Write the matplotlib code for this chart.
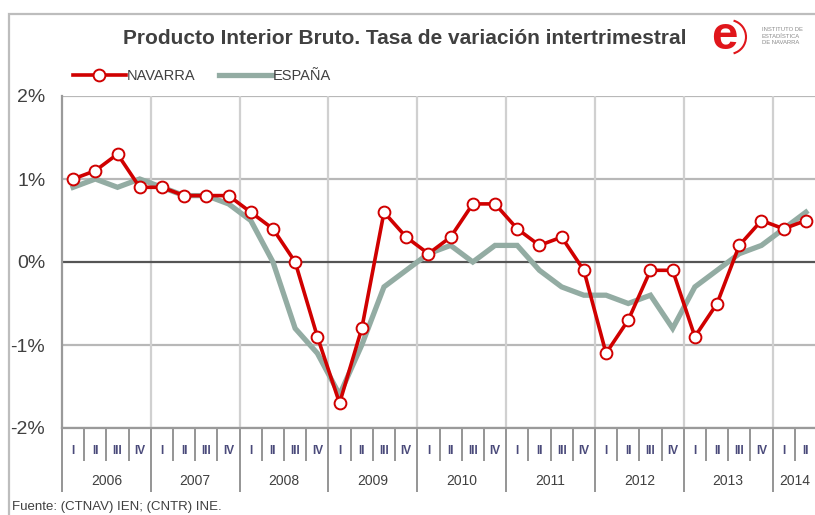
import matplotlib
matplotlib.use("Agg")
import matplotlib.pyplot as plt
from matplotlib.patches import Rectangle, Arc
from matplotlib.ticker import FixedLocator, FuncFormatter

# ---------------- data ----------------
years = ["2006", "2007", "2008", "2009", "2010", "2011", "2012", "2013", "2014"]
quarters_per_year = [4, 4, 4, 4, 4, 4, 4, 4, 2]
quarter_names = ["I", "II", "III", "IV"]

navarra = [1.0, 1.1, 1.3, 0.9,
           0.9, 0.8, 0.8, 0.8,
           0.6, 0.4, 0.0, -0.9,
           -1.7, -0.8, 0.6, 0.3,
           0.1, 0.3, 0.7, 0.7,
           0.4, 0.2, 0.3, -0.1,
           -1.1, -0.7, -0.1, -0.1,
           -0.9, -0.5, 0.2, 0.5,
           0.4, 0.5]
espana = [0.9, 1.0, 0.9, 1.0,
          0.9, 0.8, 0.8, 0.7,
          0.5, 0.0, -0.8, -1.1,
          -1.6, -1.0, -0.3, -0.1,
          0.1, 0.2, 0.0, 0.2,
          0.2, -0.1, -0.3, -0.4,
          -0.4, -0.5, -0.4, -0.8,
          -0.3, -0.1, 0.1, 0.2,
          0.4, 0.6]
ytick_values = [-2, -1, 0, 1, 2]

title = "Producto Interior Bruto. Tasa de variación intertrimestral"
source = "Fuente: (CTNAV) IEN; (CNTR) INE."

# ---------------- styling ----------------
RED = "#D00000"
GREY_GREEN = "#93ACA3"
TXT = "#404040"
NARROW = ["Liberation Sans Narrow", "Liberation Sans", "DejaVu Sans"]
SANS = ["Liberation Sans", "DejaVu Sans"]

W, H = 815, 515
fig = plt.figure(figsize=(W / 100, H / 100), dpi=100)

# outer frame (partially cut off in the reference)
fig.add_artist(Rectangle((9 / W, -0.1), 1.2, 1 - 14 / H + 0.1,
                         transform=fig.transFigure, fill=False,
                         edgecolor="#BDBDBD", linewidth=1.6))

left_px, right_px, top_px, bot_px = 62, 817, 96, 428
ax = fig.add_axes([left_px / W, 1 - bot_px / H,
                   (right_px - left_px) / W, (bot_px - top_px) / H])

n = len(navarra)
x = list(range(n))

ax.plot(x, espana, color=GREY_GREEN, linewidth=3.8, solid_joinstyle="miter",
        label="ESPAÑA", zorder=3)
ax.plot(x, navarra, color=RED, linewidth=2.6, marker="o", markersize=8.5,
        markerfacecolor="white", markeredgecolor=RED, markeredgewidth=1.4,
        label="NAVARRA", zorder=4)

ax.set_xlim(-0.5, n - 0.5)
ax.set_ylim(-2, 2)

# y axis
ax.set_yticks(ytick_values)
ax.yaxis.set_major_formatter(FuncFormatter(lambda v, p: f"{int(v)}%"))
ax.tick_params(axis="y", length=0, pad=12, labelsize=14, labelcolor=TXT)
for lab in ax.get_yticklabels():
    lab.set_family(SANS)
for yv in ytick_values:
    if yv == 0:
        ax.axhline(yv, color="#555555", linewidth=1.6, zorder=2)
    else:
        ax.axhline(yv, color="#B8B8B8", linewidth=1.6, zorder=1)

# x axis: year boundaries (major) and quarter boundaries (minor)
year_bounds = [-0.5]
for q in quarters_per_year:
    year_bounds.append(year_bounds[-1] + q)
quarter_bounds = [b - 0.5 for b in range(n + 1)]
ax.xaxis.set_major_locator(FixedLocator(year_bounds))
ax.xaxis.set_minor_locator(FixedLocator(quarter_bounds))
ax.xaxis.set_major_formatter(FuncFormatter(lambda v, p: ""))
ax.tick_params(axis="x", which="major", length=46, width=1.3, color="#8C8C8C",
               direction="out")
ax.tick_params(axis="x", which="minor", length=24, width=1.3, color="#8C8C8C",
               direction="out")
for b in year_bounds[1:-1]:
    ax.axvline(b, color="#D0D0D0", linewidth=1.6, zorder=1)

for s in ["top", "right"]:
    ax.spines[s].set_visible(False)
ax.spines["left"].set_color("#9A9A9A")
ax.spines["left"].set_linewidth(1.6)
ax.spines["bottom"].set_color("#9A9A9A")
ax.spines["bottom"].set_linewidth(1.6)

# quarter and year labels
idx = 0
for yr, q in zip(years, quarters_per_year):
    for k in range(q):
        ax.annotate(quarter_names[k], xy=(idx + k, 0), xycoords=("data", "axes fraction"),
                    xytext=(0, -16.5), textcoords="offset points",
                    ha="center", va="center", fontsize=8.5, color="#4A4A7A",
                    family=NARROW, fontweight="bold", annotation_clip=False)
    ax.annotate(yr, xy=(idx + (q - 1) / 2, 0), xycoords=("data", "axes fraction"),
                xytext=(0, -38), textcoords="offset points",
                ha="center", va="center", fontsize=10, color=TXT,
                family=SANS, annotation_clip=False)
    idx += q

# legend
handles, labels = ax.get_legend_handles_labels()
order = [1, 0]
leg = fig.legend([handles[i] for i in order], [labels[i] for i in order],
                 loc="center left", bbox_to_anchor=(60 / W, 1 - 76 / H),
                 ncol=2, frameon=False, handlelength=3.6,
                 handletextpad=0.1, columnspacing=1.6, numpoints=1,
                 prop={"family": SANS, "size": 10.5})
for t in leg.get_texts():
    t.set_color(TXT)

# title
fig.text(405 / W, 1 - 38 / H, title, ha="center", va="center",
         fontsize=15, fontweight="bold", color=TXT, family=NARROW)

# logo (red "e" with arc + institute name)
fig.text(724 / W, 1 - 37 / H, "e", ha="center", va="center", fontsize=34,
         fontweight="bold", color="#E0161B", family=SANS)
fig.add_artist(Arc((729 / W, 1 - 37 / H), 34 / W, 34 / H, theta1=-80, theta2=80,
                   transform=fig.transFigure, color="#E0161B", linewidth=1.5))
fig.text(762 / W, 1 - 36 / H, "INSTITUTO DE\nESTADÍSTICA\nDE NAVARRA",
         ha="left", va="center", fontsize=4.2, color="#8A8A8A",
         family=SANS, linespacing=1.3)

# source
fig.text(12 / W, 1 - 507 / H, source, ha="left", va="center", fontsize=9.5,
         color=TXT, family=SANS)

fig.savefig("out.png", dpi=100)
